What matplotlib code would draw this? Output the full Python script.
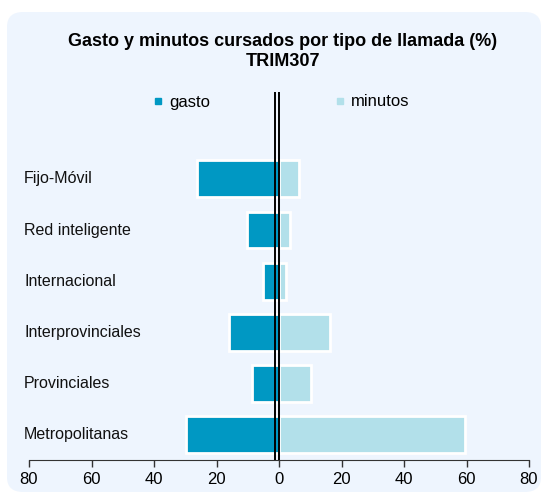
import matplotlib.pyplot as plt
from matplotlib.patches import FancyBboxPatch
from matplotlib.lines import Line2D
import numpy as np

plt.rcParams['font.family'] = ['Liberation Sans', 'DejaVu Sans']

categories = ['Fijo-Móvil', 'Red inteligente', 'Internacional',
              'Interprovinciales', 'Provinciales', 'Metropolitanas']
gasto = [26.2, 10.3, 5.0, 16.1, 8.5, 29.7]
minutos = [6.4, 3.5, 2.1, 16.4, 10.2, 59.6]
ticks = [-80, -60, -40, -20, 0, 20, 40, 60, 80]

col_gasto = '#0098C3'
col_min = '#B2E0EA'
panel = '#EEF5FE'

fig = plt.figure(figsize=(5.42, 4.93), dpi=100)
fig.patch.set_facecolor('white')

# rounded background panel
bg = FancyBboxPatch((7 / 542, 1 / 493), 534 / 542, 480 / 493,
                    boxstyle='round,pad=0,rounding_size=0.03',
                    transform=fig.transFigure, facecolor=panel,
                    edgecolor='none', zorder=-5)
fig.patches.append(bg)

ax = fig.add_axes([29 / 542, 33 / 493, 500 / 542, 368 / 493])
ax.set_facecolor('none')

y = np.arange(len(categories))[::-1]
ax.barh(y, -np.array(gasto), height=0.72, color=col_gasto,
        edgecolor='white', linewidth=2, zorder=2)
ax.barh(y, minutos, height=0.72, color=col_min,
        edgecolor='white', linewidth=2, zorder=2)

ax.axvline(-1.4, color='black', lw=1.4, zorder=3)
ax.axvline(0, color='black', lw=1.4, zorder=3)

ax.set_xlim(-80, 80)
ax.set_ylim(-0.5, 6.7)
ax.set_xticks(ticks)
ax.set_xticklabels([str(abs(t)) for t in ticks], fontsize=12)
ax.tick_params(axis='x', direction='out', length=5, width=1, color='#333333', pad=4)
ax.set_yticks([])
for s in ['top', 'left', 'right']:
    ax.spines[s].set_visible(False)
ax.spines['bottom'].set_color('#333333')

for yi, lab in zip(y, categories):
    ax.text(-0.01, yi, lab, transform=ax.get_yaxis_transform(),
            ha='left', va='center', fontsize=11.5, color='#111111')

fig.text(283 / 542, 1 - 42 / 493, 'Gasto y minutos cursados por tipo de llamada (%)',
         ha='center', va='center', fontsize=13, fontweight='bold')
fig.text(283 / 542, 1 - 62 / 493, 'TRIM307',
         ha='center', va='center', fontsize=13, fontweight='bold')

handles = [Line2D([], [], ls='none', marker='s', markersize=5, color=col_gasto),
           Line2D([], [], ls='none', marker='s', markersize=5, color=col_min)]
fig.legend(handles, ['gasto', 'minutos'], loc='center left',
           bbox_to_anchor=(152 / 542, 1 - 102 / 493), ncol=2, frameon=False,
           fontsize=12, handlelength=0.7, handletextpad=0.35,
           columnspacing=7.4, borderpad=0, borderaxespad=0)

fig.savefig('out.png', dpi=100)
